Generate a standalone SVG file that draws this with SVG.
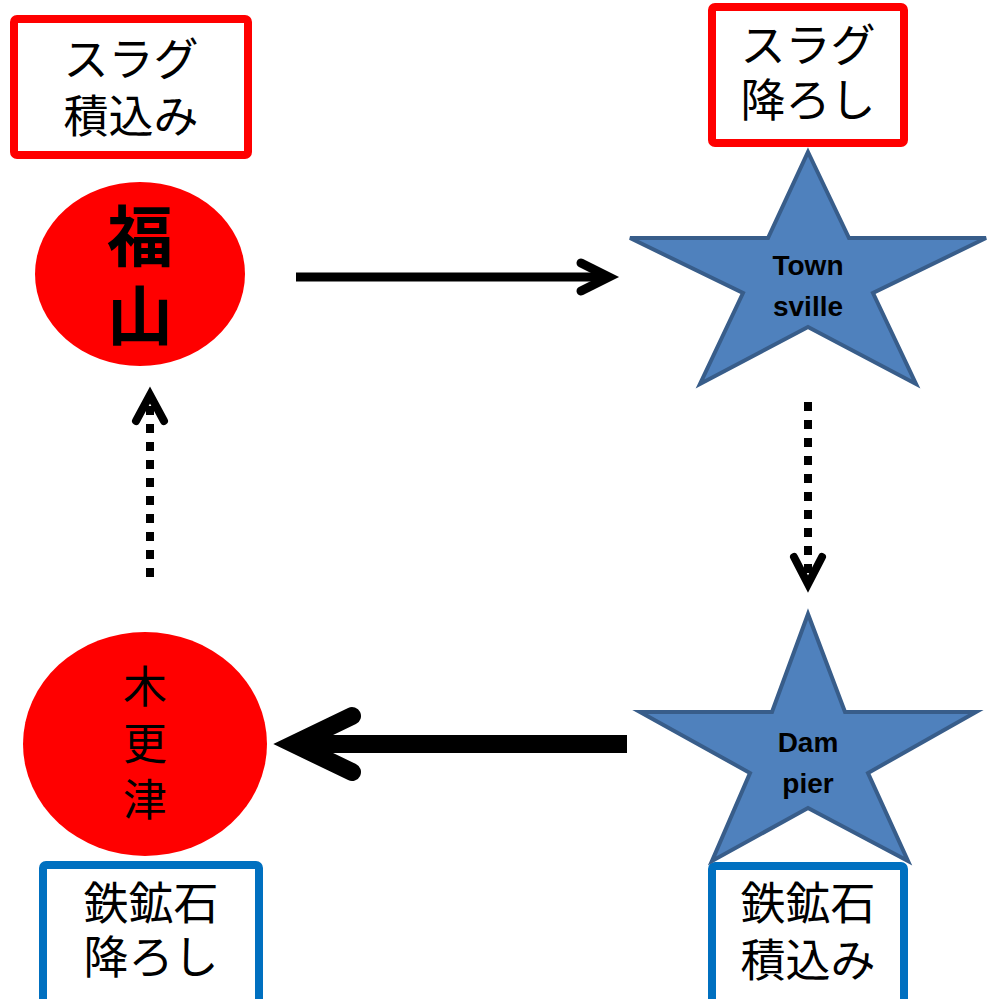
<svg xmlns="http://www.w3.org/2000/svg" width="993" height="999" viewBox="0 0 993 999">
<style>
.jp{font-family:"Noto Sans CJK JP","Noto Sans",sans-serif;fill:#000;text-anchor:middle}
.box{font-size:45px}
.red{fill:#fff;stroke:#FF0000;stroke-width:8}
.blue{fill:#fff;stroke:#0070C0;stroke-width:8}
.port{fill:#FF0000}
.star{fill:#4F81BD;stroke:#385D8A;stroke-width:4;stroke-linejoin:miter}
.en{font-family:"Liberation Sans",Arial,sans-serif;font-weight:bold;font-size:28px;fill:#000;text-anchor:middle}
.ln{fill:none;stroke:#000;stroke-linecap:butt}
.hd{fill:none;stroke:#000;stroke-linecap:round;stroke-linejoin:miter}
</style>
<rect width="993" height="999" fill="#fff"/>
<g id="connectors">
  <g id="fukuyama-to-townsville">
    <line class="ln" x1="296" y1="277" x2="606" y2="277" stroke-width="9"/>
    <polyline class="hd" points="581,263 609,277 581,291" stroke-width="9"/>
  </g>
  <g id="townsville-to-dampier">
    <line class="ln" x1="808" y1="402" x2="808" y2="580" stroke-width="8" stroke-dasharray="9 9"/>
    <polyline class="hd" points="794,557 808,584 822,557" stroke-width="8"/>
  </g>
  <g id="dampier-to-kisarazu">
    <line class="ln" x1="627" y1="744" x2="300" y2="744" stroke-width="18"/>
    <polyline class="hd" points="352,716 294,744 352,772" stroke-width="18"/>
  </g>
  <g id="kisarazu-to-fukuyama">
    <line class="ln" x1="150" y1="577" x2="150" y2="400" stroke-width="8" stroke-dasharray="9 9"/>
    <polyline class="hd" points="136,421 150,395 164,421" stroke-width="8"/>
  </g>
</g>
<g id="label-slag-load">
  <rect class="red" x="14" y="19" width="234" height="136" rx="3"/>
  <text class="jp box" x="131" y="76">スラグ</text>
  <text class="jp box" x="131" y="133">積込み</text>
</g>
<g id="fukuyama">
  <ellipse class="port" cx="140" cy="274" rx="105" ry="92"/>
  <text class="jp" x="140" y="261" font-size="66" font-weight="bold">福</text>
  <text class="jp" x="140" y="340" font-size="66" font-weight="bold">山</text>
</g>
<g id="label-slag-unload">
  <rect class="red" x="712" y="7" width="192" height="136" rx="3"/>
  <text class="jp box" x="808" y="62">スラグ</text>
  <text class="jp box" x="808" y="117">降ろし</text>
</g>
<g id="townsville">
  <polygon class="star" points="808,152 849,238 986,238 873,293 916,384 808,327 700,384 743,293 630,238 768,238"/>
  <text class="en" x="808" y="275">Town</text>
  <text class="en" x="808" y="316">sville</text>
</g>
<g id="label-ore-load">
  <rect class="blue" x="712" y="866" width="192" height="140" rx="3"/>
  <text class="jp box" x="808" y="920">鉄鉱石</text>
  <text class="jp box" x="808" y="977">積込み</text>
</g>
<g id="dampier">
  <polygon class="star" points="808,614 845,712 976,712 868,773 908,861 808,808 712,861 750,773 640,712 772,712"/>
  <text class="en" x="808" y="752">Dam</text>
  <text class="en" x="808" y="793">pier</text>
</g>
<g id="kisarazu">
  <ellipse class="port" cx="145" cy="744" rx="122" ry="112"/>
  <text class="jp" x="145" y="703" font-size="44">木</text>
  <text class="jp" x="145" y="760" font-size="44">更</text>
  <text class="jp" x="145" y="816" font-size="44">津</text>
</g>
<g id="label-ore-unload">
  <rect class="blue" x="43" y="865" width="216" height="140" rx="3"/>
  <text class="jp box" x="151" y="920">鉄鉱石</text>
  <text class="jp box" x="151" y="974">降ろし</text>
</g>
</svg>
